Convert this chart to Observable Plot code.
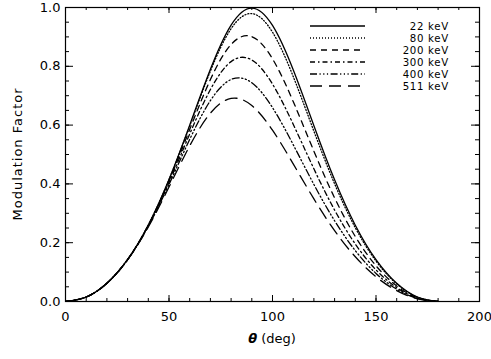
<!DOCTYPE html>
<html><head><meta charset="utf-8">
<script src="https://cdn.jsdelivr.net/npm/d3@7"></script>
<script src="https://cdn.jsdelivr.net/npm/@observablehq/plot@0.6"></script>
<style>body{margin:0;background:#fff} svg{display:block}</style>
</head><body><div id="chart"></div>
<script>
// scattering angle (deg)
const theta = [0,10,20,30,40,50,60,70,80,90,100,110,120,130,140,150,160,170,180];
// modulation factor
const mf22  = [0,0.0153,0.0621,0.1429,0.2604,0.4152,0.5998,0.7900,0.9403,0.9982,0.9391,0.7883,0.5981,0.4139,0.2595,0.1424,0.0619,0.0153,0];
const mf80  = [0,0.0153,0.0621,0.1428,0.2602,0.4144,0.5973,0.7838,0.9280,0.9792,0.9160,0.7655,0.5793,0.4003,0.2509,0.1377,0.0599,0.0148,0];
const mf200 = [0,0.0153,0.0621,0.1426,0.2591,0.4103,0.5850,0.7549,0.8743,0.9008,0.8255,0.6803,0.5112,0.3525,0.2210,0.1215,0.0529,0.0131,0];
const mf300 = [0,0.0153,0.0621,0.1424,0.2577,0.4048,0.5696,0.7210,0.8159,0.8216,0.7395,0.6031,0.4512,0.3110,0.1954,0.1076,0.0470,0.0116,0];
const mf400 = [0,0.0153,0.0621,0.1421,0.2558,0.3980,0.5514,0.6834,0.7552,0.7442,0.6596,0.5335,0.3981,0.2746,0.1730,0.0955,0.0418,0.0104,0];
const mf511 = [0,0.0153,0.0620,0.1416,0.2533,0.3894,0.5294,0.6407,0.6908,0.6667,0.5827,0.4682,0.3488,0.2410,0.1522,0.0843,0.0370,0.0092,0];
const energies = ["22 keV","80 keV","200 keV","300 keV","400 keV","511 keV"];
const series = [mf22, mf80, mf200, mf300, mf400, mf511];
// tick values
const xMajor = [0,50,100,150,200];
const xMinor = [0,10,20,30,40,50,60,70,80,90,100,110,120,130,140,150,160,170,180,190,200];
const yMajor = [0,0.2,0.4,0.6,0.8,1.0];
const yMinor = [0,0.05,0.1,0.15,0.2,0.25,0.3,0.35,0.4,0.45,0.5,0.55,0.6,0.65,0.7,0.75,0.8,0.85,0.9,0.95,1.0];

// styles
const dashes = [null, "1,2", "6,5", "5,3,1.5,3", "7,2.5,1.2,2.5,1.2,2.5,1.2,2.5", "12,7"];
const W = 491, H = 359, mT = 7, mB = 58, mL = 65, mR = 12;
const iW = W - mL - mR, iH = H - mT - mB;
const font = "DejaVu Sans";

const rows = series.map((s, i) => theta.map((t, j) => ({theta: t, mf: s[j], energy: energies[i]})));

const plot = Plot.plot({
  width: W, height: H,
  marginTop: mT, marginBottom: mB, marginLeft: mL, marginRight: mR,
  style: {fontFamily: font, fontSize: "13px", background: "#fff", color: "#000"},
  x: {domain: [0, 200]},
  y: {domain: [0, 1.0]},
  marks: [
    ...rows.map((r, i) => Plot.line(r, {x: "theta", y: "mf", stroke: "#000", strokeWidth: 1.3,
      strokeDasharray: dashes[i], curve: "natural", clip: true})),
    // inward ticks on all four sides
    Plot.tickX(xMajor, {x: d => d, insetTop: iH - 6, stroke: "#000"}),
    Plot.tickX(xMinor, {x: d => d, insetTop: iH - 3, stroke: "#000"}),
    Plot.tickX(xMajor, {x: d => d, insetBottom: iH - 6, stroke: "#000"}),
    Plot.tickX(xMinor, {x: d => d, insetBottom: iH - 3, stroke: "#000"}),
    Plot.tickY(yMajor, {y: d => d, insetRight: iW - 8, stroke: "#000"}),
    Plot.tickY(yMinor, {y: d => d, insetRight: iW - 4, stroke: "#000"}),
    Plot.tickY(yMajor, {y: d => d, insetLeft: iW - 8, stroke: "#000"}),
    Plot.tickY(yMinor, {y: d => d, insetLeft: iW - 4, stroke: "#000"}),
    Plot.axisX(xMajor, {tickSize: 0, tickPadding: 10, label: null, fontSize: 13}),
    Plot.axisY(yMajor, {tickSize: 0, tickPadding: 5, label: null, fontSize: 13, tickFormat: d3.format(".1f")}),
    Plot.frame({stroke: "#000", strokeWidth: 1.2})
  ]
});

const svg = d3.select(plot);
// axis titles
const xt = svg.append("text").attr("x", mL + iW / 2).attr("y", 343)
  .attr("text-anchor", "middle").attr("font-family", font).attr("font-size", 13).attr("fill", "#000");
xt.append("tspan").attr("font-weight", "bold").attr("font-style", "italic").text("θ");
xt.append("tspan").text(" (deg)");
svg.append("text").attr("transform", `translate(22,${mT + iH / 2}) rotate(-90)`)
  .attr("text-anchor", "middle").attr("font-family", font).attr("font-size", 13)
  .attr("letter-spacing", 1).attr("fill", "#000").text("Modulation Factor");

// legend
const lg = svg.append("g");
energies.forEach((e, i) => {
  const y = 26 + i * 12;
  lg.append("line").attr("x1", 310).attr("x2", 365).attr("y1", y).attr("y2", y)
    .attr("stroke", "#000").attr("stroke-width", 1.3).attr("stroke-dasharray", dashes[i]);
  lg.append("text").attr("x", 449).attr("y", y).attr("dy", "0.36em").attr("text-anchor", "end")
    .attr("font-family", font).attr("font-size", 10.2).attr("letter-spacing", 0.7)
    .attr("fill", "#000").text(e);
});

document.getElementById("chart").appendChild(plot);
</script>
</body></html>
